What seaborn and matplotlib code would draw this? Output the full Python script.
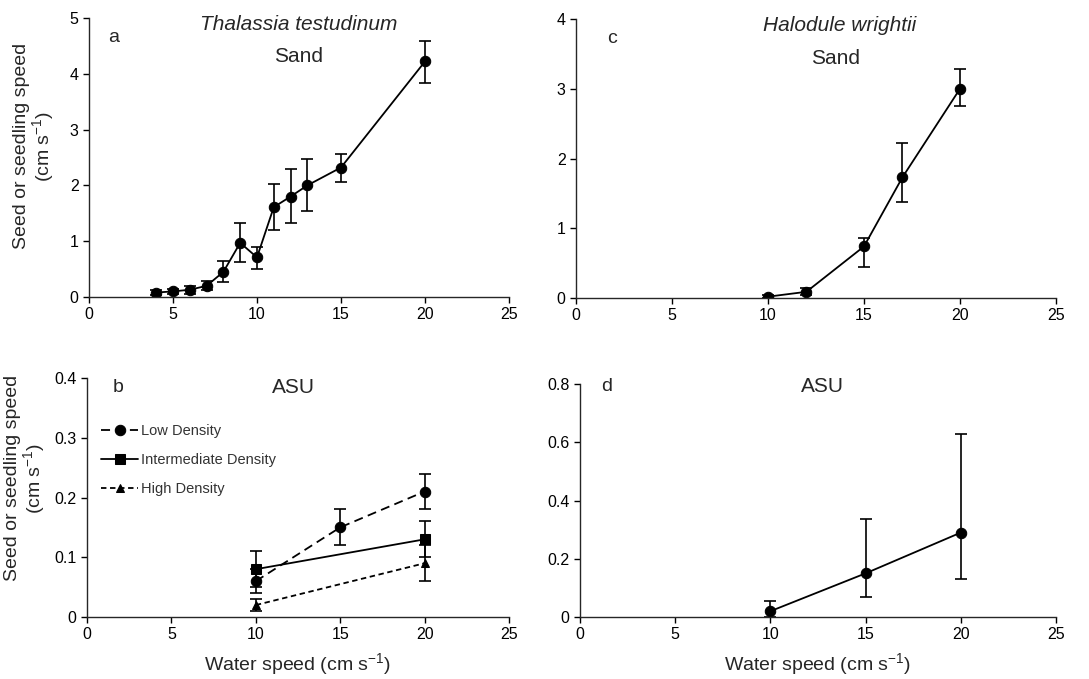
import numpy as np
import pandas as pd
import matplotlib
matplotlib.use("Agg")
import matplotlib.pyplot as plt
import seaborn as sns

# --- data ---
# a: Thalassia testudinum, sand
a_speed = [4, 5, 6, 7, 8, 9, 10, 11, 12, 13, 15, 20]
a_mean = [0.08, 0.10, 0.13, 0.20, 0.45, 0.97, 0.71, 1.61, 1.80, 2.00, 2.32, 4.22]
a_low = [0.03, 0.05, 0.06, 0.12, 0.26, 0.62, 0.51, 1.20, 1.32, 1.54, 2.06, 3.84]
a_high = [0.13, 0.15, 0.20, 0.28, 0.65, 1.33, 0.90, 2.03, 2.29, 2.48, 2.56, 4.59]

# c: Halodule wrightii, sand
c_speed = [10, 12, 15, 17, 20]
c_mean = [0.02, 0.09, 0.74, 1.73, 3.00]
c_low = [0.00, 0.04, 0.45, 1.38, 2.75]
c_high = [0.04, 0.14, 0.86, 2.22, 3.29]

# b: Thalassia testudinum, ASU
b_low_speed = [10, 15, 20]
b_low_mean = [0.06, 0.15, 0.21]
b_low_err = [0.02, 0.03, 0.03]
b_int_speed = [10, 20]
b_int_mean = [0.08, 0.13]
b_int_err = [0.03, 0.03]
b_high_speed = [10, 20]
b_high_mean = [0.02, 0.09]
b_high_err = [0.01, 0.03]

# d: Halodule wrightii, ASU
d_speed = [10, 15, 20]
d_mean = [0.02, 0.15, 0.29]
d_low = [0.00, 0.07, 0.13]
d_high = [0.054, 0.338, 0.627]

sns.set_style("ticks")
plt.rcParams['font.family'] = ['Liberation Sans', 'DejaVu Sans']
plt.rcParams['axes.linewidth'] = 1.0
plt.rcParams['mathtext.default'] = 'regular'

fig = plt.figure(figsize=(10.89, 6.79), dpi=100)
ax_a = fig.add_axes([0.0817, 0.5626, 0.3857, 0.411])
ax_c = fig.add_axes([0.5289, 0.561, 0.4408, 0.411])
ax_b = fig.add_axes([0.0799, 0.0913, 0.3875, 0.352])
ax_d = fig.add_axes([0.5326, 0.0913, 0.4371, 0.343])


def draw(ax, x, y, lo, hi, marker='o', ls='-', ms=7.5, label=None):
    df = pd.DataFrame({'x': x, 'y': y})
    sns.lineplot(data=df, x='x', y='y', ax=ax, color='black', marker=marker,
                 markersize=ms, linestyle=ls, linewidth=1.3, markeredgecolor='black',
                 label=label, legend=False if label is None else 'auto')
    y = np.array(y)
    err = [y - np.array(lo), np.array(hi) - y]
    ax.errorbar(x, y, yerr=err, fmt='none', ecolor='black', elinewidth=1.2,
                capsize=4, capthick=1.2)


draw(ax_a, a_speed, a_mean, a_low, a_high)
draw(ax_c, c_speed, c_mean, c_low, c_high)
draw(ax_d, d_speed, d_mean, d_low, d_high)

bl = np.array(b_low_mean); bi = np.array(b_int_mean); bh = np.array(b_high_mean)
draw(ax_b, b_low_speed, bl, bl - np.array(b_low_err), bl + np.array(b_low_err),
     marker='o', ls=(0, (5, 3)), label='Low Density')
draw(ax_b, b_int_speed, bi, bi - np.array(b_int_err), bi + np.array(b_int_err),
     marker='s', ls='-', ms=7, label='Intermediate Density')
draw(ax_b, b_high_speed, bh, bh - np.array(b_high_err), bh + np.array(b_high_err),
     marker='^', ls=(0, (3, 2)), ms=6, label='High Density')

ax_a.set_ylim(0, 5); ax_a.set_yticks([0, 1, 2, 3, 4, 5])
ax_c.set_ylim(0, 4); ax_c.set_yticks([0, 1, 2, 3, 4])
ax_b.set_ylim(0, 0.4); ax_b.set_yticks([0, 0.1, 0.2, 0.3, 0.4])
ax_b.set_yticklabels(['0', '0.1', '0.2', '0.3', '0.4'])
ax_d.set_ylim(0, 0.8); ax_d.set_yticks([0, 0.2, 0.4, 0.6, 0.8])
ax_d.set_yticklabels(['0', '0.2', '0.4', '0.6', '0.8'])

for ax in (ax_a, ax_b, ax_c, ax_d):
    ax.set_xlim(0, 25)
    ax.set_xticks([0, 5, 10, 15, 20, 25])
    sns.despine(ax=ax)
    ax.tick_params(direction='out', length=4, width=1, labelsize=11.5, colors='black')
    ax.set_xlabel('')
    ax.set_ylabel('')

ylab = 'Seed or seedling speed\n(cm s$^{-1}$)'
ax_a.set_ylabel(ylab, fontsize=14, linespacing=1.0)
ax_a.yaxis.set_label_coords(-0.078, 0.54)
ax_b.set_ylabel(ylab, fontsize=14, linespacing=1.0)
ax_b.yaxis.set_label_coords(-0.096, 0.58)
ax_b.set_xlabel('Water speed (cm s$^{-1}$)', fontsize=14, labelpad=6)
ax_d.set_xlabel('Water speed (cm s$^{-1}$)', fontsize=14, labelpad=6)

ax_a.text(0.5, 0.975, 'Thalassia testudinum', transform=ax_a.transAxes, ha='center',
          va='center', fontsize=15, style='italic')
ax_a.text(0.5, 0.86, 'Sand', transform=ax_a.transAxes, ha='center', va='center', fontsize=15)
ax_a.text(0.045, 0.93, 'a', transform=ax_a.transAxes, ha='left', va='center', fontsize=14)

ax_c.text(0.55, 0.975, 'Halodule wrightii', transform=ax_c.transAxes, ha='center',
          va='center', fontsize=15, style='italic')
ax_c.text(0.54, 0.86, 'Sand', transform=ax_c.transAxes, ha='center', va='center', fontsize=15)
ax_c.text(0.065, 0.93, 'c', transform=ax_c.transAxes, ha='left', va='center', fontsize=14)

ax_b.text(0.49, 0.96, 'ASU', transform=ax_b.transAxes, ha='center', va='center', fontsize=15)
ax_b.text(0.06, 0.96, 'b', transform=ax_b.transAxes, ha='left', va='center', fontsize=14)
ax_d.text(0.51, 0.99, 'ASU', transform=ax_d.transAxes, ha='center', va='center', fontsize=15)
ax_d.text(0.045, 0.99, 'd', transform=ax_d.transAxes, ha='left', va='center', fontsize=14)

leg = ax_b.legend(loc='upper left', bbox_to_anchor=(0.02, 0.83), frameon=False,
                  fontsize=10.5, handlelength=2.5, handletextpad=0.2, labelspacing=1.0,
                  borderaxespad=0)
for t in leg.get_texts():
    t.set_color('#333333')

fig.savefig('out.png', dpi=100)
